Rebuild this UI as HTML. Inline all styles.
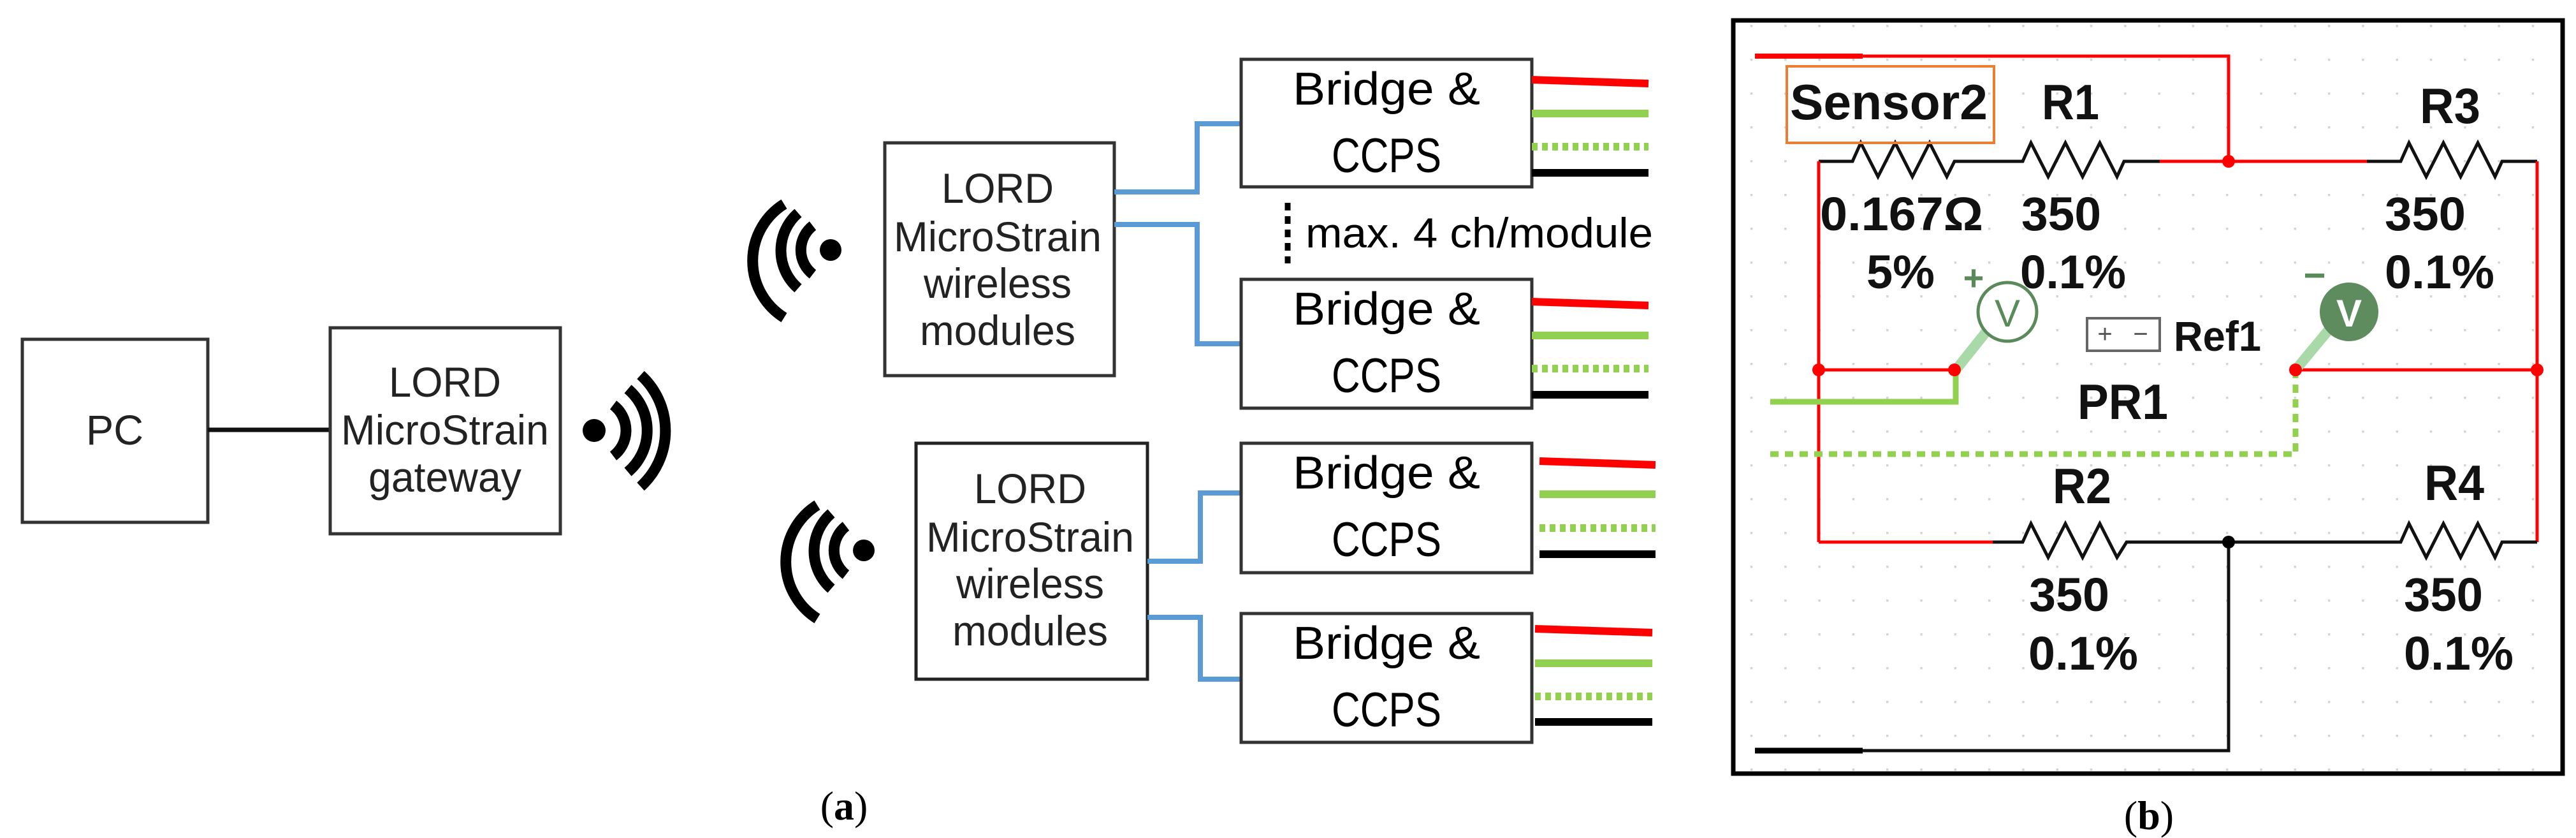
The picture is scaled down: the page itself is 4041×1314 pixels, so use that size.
<!DOCTYPE html>
<html><head><meta charset="utf-8"><style>
html,body{margin:0;padding:0;background:#fff;}
svg{display:block;}
</style></head><body>
<svg width="4041" height="1314" viewBox="0 0 4041 1314" xmlns="http://www.w3.org/2000/svg">
<defs>
<pattern id="dots" x="2959" y="463" width="53.3" height="53" patternUnits="userSpaceOnUse">
<rect x="0" y="0" width="3.5" height="3.5" fill="#d4d4d4"/>
</pattern>
</defs>
<rect width="4041" height="1314" fill="#fff"/>

<!-- ===== Panel (a) ===== -->
<g font-family="Liberation Sans, Arial, sans-serif" fill="#222">
<rect x="35" y="532" width="291" height="287" fill="none" stroke="#333" stroke-width="5"/>
<text x="180" y="697" font-size="66" text-anchor="middle" textLength="90" lengthAdjust="spacingAndGlyphs">PC</text>
<line x1="326" y1="674" x2="518" y2="674" stroke="#111" stroke-width="7"/>
<rect x="518" y="514" width="361" height="323" fill="none" stroke="#333" stroke-width="5"/>
<text x="698" y="622" font-size="66" text-anchor="middle" textLength="176" lengthAdjust="spacingAndGlyphs">LORD</text>
<text x="698" y="697" font-size="66" text-anchor="middle" textLength="326" lengthAdjust="spacingAndGlyphs">MicroStrain</text>
<text x="698" y="771" font-size="66" text-anchor="middle" textLength="240" lengthAdjust="spacingAndGlyphs">gateway</text>

<!-- module 1 -->
<rect x="1388" y="224" width="360" height="365" fill="none" stroke="#333" stroke-width="5"/>
<text x="1565" y="318" font-size="66" text-anchor="middle" textLength="176" lengthAdjust="spacingAndGlyphs">LORD</text>
<text x="1565" y="394" font-size="66" text-anchor="middle" textLength="326" lengthAdjust="spacingAndGlyphs">MicroStrain</text>
<text x="1565" y="467" font-size="66" text-anchor="middle" textLength="232" lengthAdjust="spacingAndGlyphs">wireless</text>
<text x="1565" y="541" font-size="66" text-anchor="middle" textLength="244" lengthAdjust="spacingAndGlyphs">modules</text>
<!-- module 2 -->
<rect x="1437" y="695" width="363" height="370" fill="none" stroke="#222" stroke-width="5"/>
<text x="1616" y="789" font-size="66" text-anchor="middle" textLength="176" lengthAdjust="spacingAndGlyphs">LORD</text>
<text x="1616" y="865" font-size="66" text-anchor="middle" textLength="326" lengthAdjust="spacingAndGlyphs">MicroStrain</text>
<text x="1616" y="938" font-size="66" text-anchor="middle" textLength="232" lengthAdjust="spacingAndGlyphs">wireless</text>
<text x="1616" y="1012" font-size="66" text-anchor="middle" textLength="244" lengthAdjust="spacingAndGlyphs">modules</text>
</g>

<!-- wifi icons -->
<g fill="none" stroke="#000" stroke-width="17" stroke-linecap="butt">
<circle cx="932" cy="675" r="18" fill="#000" stroke="none"/>
<path d="M962,635 A50,50 0 0 1 962,715"/>
<path d="M985,610 A85,85 0 0 1 985,740"/>
<path d="M1005,588 A118,118 0 0 1 1005,763"/>

<circle cx="1303" cy="392" r="17" fill="#000" stroke="none"/>
<path d="M1275,354 A48,48 0 0 0 1275,430"/>
<path d="M1252,334 A78,78 0 0 0 1252,452"/>
<path d="M1230,320 A105,105 0 0 0 1230,498"/>

<circle cx="1355" cy="863" r="17" fill="#000" stroke="none"/>
<path d="M1327,825 A48,48 0 0 0 1327,901"/>
<path d="M1304,805 A78,78 0 0 0 1304,923"/>
<path d="M1282,792 A105,105 0 0 0 1282,970"/>
</g>

<!-- blue connectors -->
<g fill="none" stroke="#5b9bd5" stroke-width="8">
<polyline points="1748,301 1878,301 1878,194 1947,194"/>
<polyline points="1748,352 1878,352 1878,539 1947,539"/>
<polyline points="1800,880 1883,880 1883,773 1947,773"/>
<polyline points="1800,968 1883,968 1883,1065 1947,1065"/>
</g>

<!-- bridge boxes -->
<g font-family="Liberation Sans, Arial, sans-serif" fill="#000">
<rect x="1947" y="93" width="456" height="200" fill="none" stroke="#333" stroke-width="5"/>
<text x="2175" y="164" font-size="72" text-anchor="middle" textLength="294" lengthAdjust="spacingAndGlyphs">Bridge &amp;</text>
<text x="2175" y="270" font-size="76" text-anchor="middle" textLength="172" lengthAdjust="spacingAndGlyphs">CCPS</text>
<rect x="1947" y="438" width="456" height="202" fill="none" stroke="#333" stroke-width="5"/>
<text x="2175" y="509" font-size="72" text-anchor="middle" textLength="294" lengthAdjust="spacingAndGlyphs">Bridge &amp;</text>
<text x="2175" y="615" font-size="76" text-anchor="middle" textLength="172" lengthAdjust="spacingAndGlyphs">CCPS</text>
<rect x="1947" y="695" width="456" height="203" fill="none" stroke="#333" stroke-width="5"/>
<text x="2175" y="766" font-size="72" text-anchor="middle" textLength="294" lengthAdjust="spacingAndGlyphs">Bridge &amp;</text>
<text x="2175" y="872" font-size="76" text-anchor="middle" textLength="172" lengthAdjust="spacingAndGlyphs">CCPS</text>
<rect x="1947" y="962" width="456" height="202" fill="none" stroke="#333" stroke-width="5"/>
<text x="2175" y="1033" font-size="72" text-anchor="middle" textLength="294" lengthAdjust="spacingAndGlyphs">Bridge &amp;</text>
<text x="2175" y="1139" font-size="76" text-anchor="middle" textLength="172" lengthAdjust="spacingAndGlyphs">CCPS</text>

<line x1="2020" y1="318" x2="2020" y2="413" stroke="#000" stroke-width="9" stroke-dasharray="12,9"/>
<text x="2048" y="388" font-size="66" textLength="545" lengthAdjust="spacingAndGlyphs">max. 4 ch/module</text>
</g>

<!-- coloured leads -->
<g stroke-width="12" fill="none">
<line x1="2403" y1="125" x2="2586" y2="131" stroke="#ff0000"/>
<line x1="2403" y1="178" x2="2586" y2="178" stroke="#92d050"/>
<line x1="2403" y1="230" x2="2586" y2="230" stroke="#92d050" stroke-dasharray="9,7"/>
<line x1="2403" y1="271" x2="2586" y2="271" stroke="#000"/>

<line x1="2403" y1="473" x2="2586" y2="479" stroke="#ff0000"/>
<line x1="2403" y1="526" x2="2586" y2="526" stroke="#92d050"/>
<line x1="2403" y1="578" x2="2586" y2="578" stroke="#92d050" stroke-dasharray="9,7"/>
<line x1="2403" y1="619" x2="2586" y2="619" stroke="#000"/>

<line x1="2415" y1="723" x2="2597" y2="729" stroke="#ff0000"/>
<line x1="2415" y1="775" x2="2597" y2="775" stroke="#92d050"/>
<line x1="2415" y1="828" x2="2597" y2="828" stroke="#92d050" stroke-dasharray="9,7"/>
<line x1="2415" y1="869" x2="2597" y2="869" stroke="#000"/>

<line x1="2408" y1="986" x2="2592" y2="992" stroke="#ff0000"/>
<line x1="2408" y1="1040" x2="2592" y2="1040" stroke="#92d050"/>
<line x1="2408" y1="1092" x2="2592" y2="1092" stroke="#92d050" stroke-dasharray="9,7"/>
<line x1="2408" y1="1132" x2="2592" y2="1132" stroke="#000"/>
</g>

<text x="1324" y="1285" font-family="Liberation Serif, serif" font-size="64" text-anchor="middle">(<tspan font-weight="bold">a</tspan>)</text>

<!-- ===== Panel (b) ===== -->
<rect x="2719" y="32" width="1301" height="1181" fill="url(#dots)" stroke="#000" stroke-width="7"/>

<g fill="none" stroke-width="5">
<line x1="2753" y1="88" x2="2922" y2="88" stroke="#ff0000" stroke-width="8"/>
<polyline points="2922,88 3496,88 3496,253" stroke="#ff0000"/>
<polyline points="2853,253 2906,253 2919,224 2946,277 2973,224 3000,277 3027,224 3054,277 3066,253 3173,253 3186,224 3213,277 3240,224 3267,277 3294,224 3321,277 3332,253 3388,253" stroke="#111"/>
<line x1="3388" y1="253" x2="3713" y2="253" stroke="#ff0000"/>
<polyline points="3713,253 3766,253 3779,224 3806,277 3833,224 3860,277 3887,224 3914,277 3925,253 3980,253" stroke="#111"/>
<line x1="2853" y1="253" x2="2853" y2="850" stroke="#ff0000"/>
<line x1="3980" y1="253" x2="3980" y2="850" stroke="#ff0000"/>
<line x1="2853" y1="850" x2="3126" y2="850" stroke="#ff0000"/>
<polyline points="3126,850 3173,850 3186,821 3213,874 3240,821 3267,874 3294,821 3321,874 3336,850 3766,850 3779,821 3806,874 3833,821 3860,874 3887,821 3914,874 3925,850 3980,850" stroke="#111"/>
<polyline points="3496,850 3496,1177 2922,1177" stroke="#111"/>
<line x1="2753" y1="1177" x2="2922" y2="1177" stroke="#000" stroke-width="9"/>
<line x1="2853" y1="580" x2="3066" y2="580" stroke="#ff0000"/>
<line x1="3601" y1="580" x2="3980" y2="580" stroke="#ff0000"/>
<polyline points="2777,630 3068,630 3068,582" stroke="#92d050" stroke-width="9"/>
<polyline points="2777,712 3601,712 3601,582" stroke="#92d050" stroke-width="9" stroke-dasharray="13,10"/>
<line x1="3068" y1="580" x2="3120" y2="515" stroke="#a9d8a9" stroke-width="16"/>
<line x1="3601" y1="580" x2="3655" y2="515" stroke="#a9d8a9" stroke-width="16"/>
</g>
<g>
<circle cx="3496" cy="253" r="10" fill="#ff0000"/>
<circle cx="3496" cy="850" r="10" fill="#000"/>
<circle cx="2853" cy="580" r="10" fill="#ff0000"/>
<circle cx="3066" cy="580" r="10" fill="#ff0000"/>
<circle cx="3601" cy="580" r="10" fill="#ff0000"/>
<circle cx="3980" cy="580" r="10" fill="#ff0000"/>
<circle cx="3149" cy="489" r="46" fill="#fff" stroke="#5a8a5a" stroke-width="5"/>
<circle cx="3685" cy="489" r="46" fill="#5f8c5f"/>
</g>
<g font-family="Liberation Sans, Arial, sans-serif">
<text x="3149" y="512" font-size="60" fill="#5a8a5a" text-anchor="middle">V</text>
<text x="3685" y="512" font-size="60" fill="#fff" text-anchor="middle" font-weight="bold">V</text>
<text x="3096" y="455" font-size="56" fill="#5a8a5a" text-anchor="middle" font-weight="bold">+</text>
<text x="3631" y="452" font-size="60" fill="#5a8a5a" text-anchor="middle" font-weight="bold">−</text>
<rect x="3274" y="499" width="114" height="51" fill="#fff" stroke="#666" stroke-width="4"/>
<text x="3302" y="537" font-size="40" fill="#555" text-anchor="middle">+</text>
<text x="3358" y="537" font-size="40" fill="#555" text-anchor="middle">−</text>
</g>
<g font-family="Liberation Sans, Arial, sans-serif" font-weight="bold" fill="#111">
<rect x="2803" y="104" width="325" height="120" fill="none" stroke="#ed7d31" stroke-width="4"/>
<text x="2808" y="187" font-size="78" textLength="310" lengthAdjust="spacingAndGlyphs">Sensor2</text>
<text x="3203" y="187" font-size="78" textLength="90" lengthAdjust="spacingAndGlyphs">R1</text>
<text x="3796" y="193" font-size="78" textLength="95" lengthAdjust="spacingAndGlyphs">R3</text>
<text x="2855" y="361" font-size="74" textLength="256" lengthAdjust="spacingAndGlyphs">0.167Ω</text>
<text x="3171" y="361" font-size="74" textLength="125" lengthAdjust="spacingAndGlyphs">350</text>
<text x="2928" y="452" font-size="74" textLength="107" lengthAdjust="spacingAndGlyphs">5%</text>
<text x="3169" y="452" font-size="74" textLength="166" lengthAdjust="spacingAndGlyphs">0.1%</text>
<text x="3741" y="361" font-size="74" textLength="127" lengthAdjust="spacingAndGlyphs">350</text>
<text x="3741" y="452" font-size="74" textLength="172" lengthAdjust="spacingAndGlyphs">0.1%</text>
<text x="3410" y="550" font-size="66" textLength="137" lengthAdjust="spacingAndGlyphs">Ref1</text>
<text x="3259" y="657" font-size="78" textLength="142" lengthAdjust="spacingAndGlyphs">PR1</text>
<text x="3220" y="789" font-size="78" textLength="92" lengthAdjust="spacingAndGlyphs">R2</text>
<text x="3803" y="784" font-size="78" textLength="94" lengthAdjust="spacingAndGlyphs">R4</text>
<text x="3183" y="958" font-size="74" textLength="126" lengthAdjust="spacingAndGlyphs">350</text>
<text x="3182" y="1050" font-size="74" textLength="172" lengthAdjust="spacingAndGlyphs">0.1%</text>
<text x="3771" y="958" font-size="74" textLength="124" lengthAdjust="spacingAndGlyphs">350</text>
<text x="3771" y="1050" font-size="74" textLength="172" lengthAdjust="spacingAndGlyphs">0.1%</text>
</g>
<text x="3371" y="1300" font-family="Liberation Serif, serif" font-size="64" text-anchor="middle">(<tspan font-weight="bold">b</tspan>)</text>
</svg>
</body></html>
